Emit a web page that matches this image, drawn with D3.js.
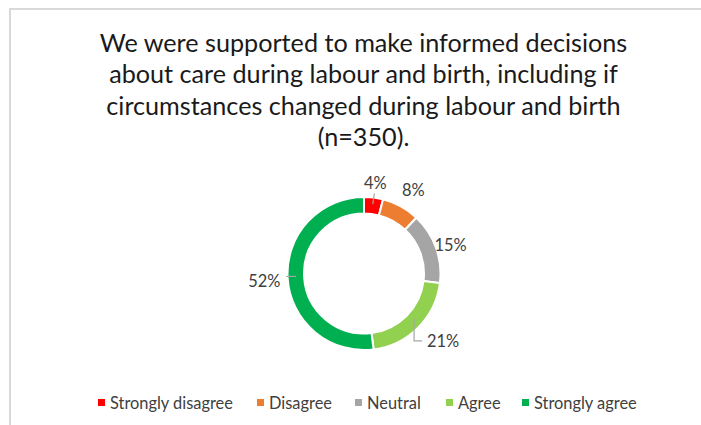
<!DOCTYPE html>
<html>
<head>
<meta charset="utf-8">
<script src="https://cdn.jsdelivr.net/npm/d3@7/dist/d3.min.js"></script>
<style>
  html, body { margin: 0; padding: 0; background: #fff; }
  svg { display: block; }
</style>
</head>
<body>
<svg id="chart" width="701" height="425"></svg>
<script>
// Survey responses (percent of n=350)
const categories = ["Strongly disagree", "Disagree", "Neutral", "Agree", "Strongly agree"];
const values = [4, 8, 15, 21, 52];
const colors = ["#FF0000", "#ED7D31", "#A5A5A5", "#92D050", "#00B050"];
const titleLines = [
  "We were supported to make informed decisions",
  "about care during labour and birth, including if",
  "circumstances changed during labour and birth",
  "(n=350)."
];

const W = 701, H = 425;
const font = "Lato, 'Open Sans', sans-serif";
const svg = d3.select("#chart");

// chart area frame (top and left edges visible)
svg.append("path")
  .attr("d", `M10,${H} V9 H${W}`)
  .attr("fill", "none")
  .attr("stroke", "#d9d9d9")
  .attr("stroke-width", 2);

// title
svg.append("g")
  .selectAll("text")
  .data(titleLines)
  .join("text")
  .attr("x", 363.5)
  .attr("y", (d, i) => 52 + i * 31.3)
  .attr("text-anchor", "middle")
  .attr("font-family", font)
  .attr("font-size", 25.2)
  .attr("fill", "#1a1a1a")
  .text(d => d);

// donut
const cx = 364, cy = 273.5, rOuter = 76.5, rInner = 60;
const data = categories.map((c, i) => ({ category: c, value: values[i], color: colors[i] }));
const pie = d3.pie().value(d => d.value).sort(null);
const arcs = pie(data);
const arc = d3.arc().innerRadius(rInner).outerRadius(rOuter);

const g = svg.append("g").attr("transform", `translate(${cx},${cy})`);
g.selectAll("path")
  .data(arcs)
  .join("path")
  .attr("d", arc)
  .attr("fill", d => d.data.color)
  .attr("stroke", "#fff")
  .attr("stroke-width", 2);

// label placement: radial distance and angle nudge (radians) per slice
const labelRadius = [91, 97, 91, 104, 100];
const labelNudge = [0, 0.03, 0.03, -0.08, -0.01];
const mid = d => (d.startAngle + d.endAngle) / 2;
const polar = (a, r) => [r * Math.sin(a), -r * Math.cos(a)];

const labelPos = arcs.map((d, i) => polar(mid(d) + labelNudge[i], labelRadius[i]));

// leader lines for labels placed away from their slice
const leaders = [
  { i: 0, pts: d => { const a = mid(d); const p = labelPos[0]; return [[p[0] - 1, p[1] + 10], polar(a, 70)]; } },
  { i: 3, pts: d => { const s = polar(mid(d) - 0.05, 67.5); const p = labelPos[3]; return [s, [s[0], p[1]], [p[0] - 21, p[1]]]; } },
  { i: 4, pts: d => { const s = polar(mid(d) + 0.02, 68); const p = labelPos[4]; return [[p[0] + 22, s[1]], s]; } }
];
g.selectAll("path.leader")
  .data(leaders)
  .join("path")
  .attr("class", "leader")
  .attr("d", l => d3.line()(l.pts(arcs[l.i])))
  .attr("fill", "none")
  .attr("stroke", "#a6a6a6")
  .attr("stroke-width", 1.2);

g.selectAll("text.lbl")
  .data(arcs)
  .join("text")
  .attr("class", "lbl")
  .attr("x", (d, i) => labelPos[i][0])
  .attr("y", (d, i) => labelPos[i][1])
  .attr("dy", "0.35em")
  .attr("text-anchor", "middle")
  .attr("font-family", font)
  .attr("font-size", 16.4)
  .attr("fill", "#404040")
  .text(d => d.data.value + "%");

// legend
const legendX = [98, 257, 355, 446, 522];
const legend = svg.append("g");
const items = legend.selectAll("g")
  .data(data)
  .join("g")
  .attr("transform", (d, i) => `translate(${legendX[i]},403)`);
items.append("rect")
  .attr("x", 0).attr("y", -4)
  .attr("width", 7).attr("height", 7)
  .attr("fill", d => d.color);
items.append("text")
  .attr("x", 12)
  .attr("y", 0)
  .attr("dy", "0.35em")
  .attr("font-family", font)
  .attr("font-size", 16.4)
  .attr("fill", "#404040")
  .text(d => d.category);
</script>
</body>
</html>
